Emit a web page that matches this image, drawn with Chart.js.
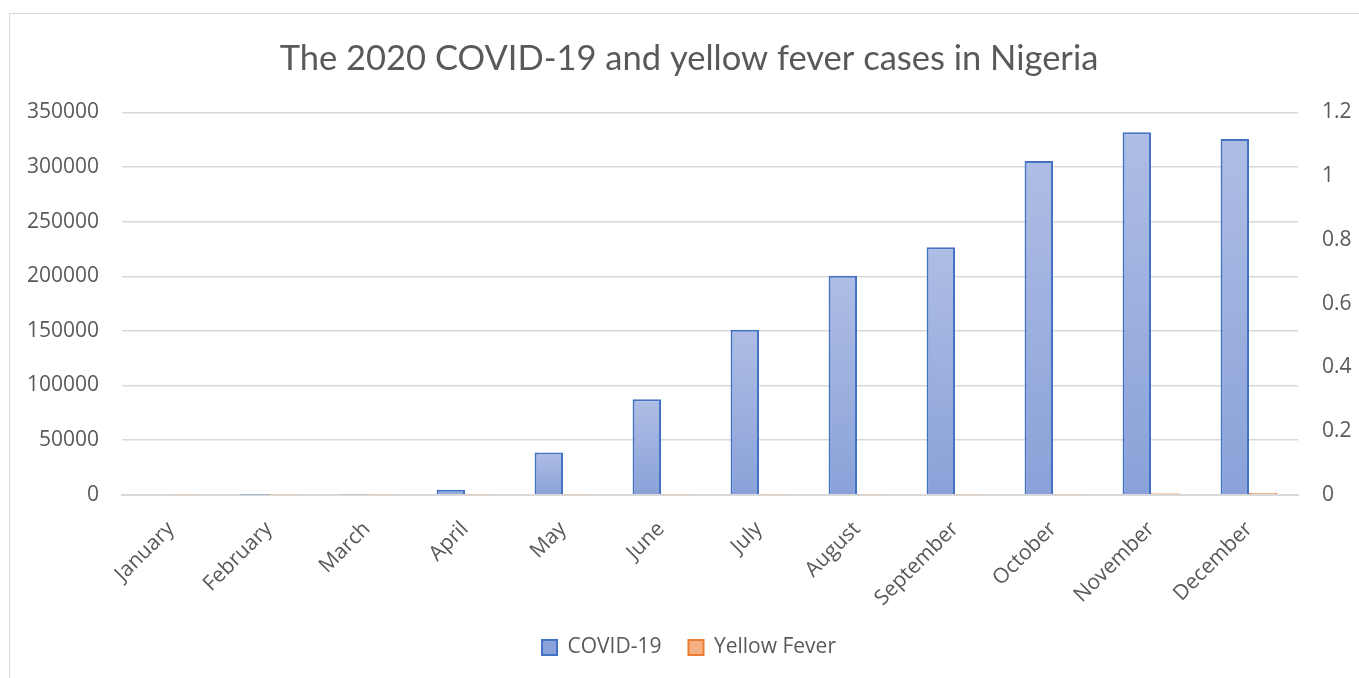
<!DOCTYPE html>
<html>
<head>
<meta charset="utf-8">
<title>The 2020 COVID-19 and yellow fever cases in Nigeria</title>
<script src="https://cdn.jsdelivr.net/npm/chart.js@4"></script>
<style>
  html, body { margin: 0; padding: 0; background: #ffffff; overflow: hidden; }
  #frame {
    position: absolute; left: 9px; top: 13px; width: 1400px; height: 700px;
    border: 1px solid #d9d9d9; box-sizing: border-box;
  }
  #wrap { position: absolute; left: 0; top: 0; width: 1359px; height: 678px; }
</style>
</head>
<body>
<div id="frame"></div>
<div id="wrap"><canvas id="chart" width="1359" height="678"></canvas></div>
<script>
// Monthly figures for 2020
const months = ['January', 'February', 'March', 'April', 'May', 'June',
                'July', 'August', 'September', 'October', 'November', 'December'];
const covidCases = [0, 1, 300, 4500, 38700, 87500, 151100, 200500, 226500, 305600, 331800, 325700];
const yellowFeverCases = [300, 250, 300, 200, 150, 150, 120, 150, 200, 300, 1400, 1600];

// Axis ranges and steps
const leftMax = 350000, leftStep = 50000;
const rightMax = 1.2, rightStep = 0.2;

const grey = '#595959';
const gridGrey = '#d9d9d9';

// Per-bar vertical gradient for the COVID-19 bars
function covidFill(ctx) {
  if (ctx.type !== 'data') return '#a3b4df';
  const chart = ctx.chart;
  const y = chart.scales.y;
  if (!y || !chart.chartArea) return '#a3b4df';
  const top = y.getPixelForValue(ctx.parsed ? ctx.parsed.y : ctx.raw);
  const base = y.getPixelForValue(0);
  if (!isFinite(top) || base - top < 1) return '#8aa2d9';
  const g = chart.ctx.createLinearGradient(0, top, 0, base);
  g.addColorStop(0, '#aebde4');
  g.addColorStop(1, '#8aa2d9');
  return g;
}

new Chart(document.getElementById('chart'), {
  type: 'bar',
  data: {
    labels: months,
    datasets: [
      {
        label: 'COVID-19',
        data: covidCases,
        backgroundColor: covidFill,
        borderColor: '#4472c4',
        borderWidth: 2,
        categoryPercentage: 0.58,
        barPercentage: 1.0,
        yAxisID: 'y'
      },
      {
        label: 'Yellow Fever',
        data: yellowFeverCases,
        backgroundColor: '#f4b183',
        borderColor: '#ed7d31',
        borderWidth: 2,
        categoryPercentage: 0.58,
        barPercentage: 1.0,
        yAxisID: 'y'
      }
    ]
  },
  options: {
    responsive: false,
    animation: false,
    layout: { padding: { top: 38, left: 19, right: 0, bottom: 10 } },
    plugins: {
      title: {
        display: true,
        text: 'The 2020 COVID-19 and yellow fever cases in Nigeria',
        color: grey,
        font: { family: 'Lato', size: 34.5, weight: 'normal' },
        padding: { top: 0, bottom: 33 }
      },
      legend: {
        position: 'bottom',
        labels: {
          color: grey,
          font: { family: 'Open Sans', size: 21 },
          boxWidth: 15,
          boxHeight: 15,
          padding: 27
        }
      },
      tooltip: { enabled: false }
    },
    scales: {
      x: {
        grid: { display: false },
        border: { display: true, color: gridGrey, width: 2 },
        ticks: {
          color: grey,
          font: { family: 'Open Sans', size: 21 },
          maxRotation: 45,
          minRotation: 45,
          padding: 14
        },
        afterFit: s => { s.height -= 15; }
      },
      y: {
        position: 'left',
        min: 0,
        max: leftMax,
        ticks: {
          stepSize: leftStep,
          color: grey,
          font: { family: 'Open Sans', size: 21 },
          padding: 23,
          callback: v => String(v)
        },
        grid: { color: gridGrey, lineWidth: 1.5, drawTicks: false },
        border: { display: false },
        afterFit: s => { s.width = 103; }
      },
      y1: {
        position: 'right',
        display: true,
        min: 0,
        max: rightMax,
        ticks: {
          stepSize: rightStep,
          color: grey,
          font: { family: 'Open Sans', size: 21 },
          padding: 24,
          callback: v => String(Math.round(v * 10) / 10)
        },
        grid: { display: false, drawTicks: false },
        border: { display: false },
        afterFit: s => { s.width = 61; }
      }
    }
  }
});
</script>
</body>
</html>
